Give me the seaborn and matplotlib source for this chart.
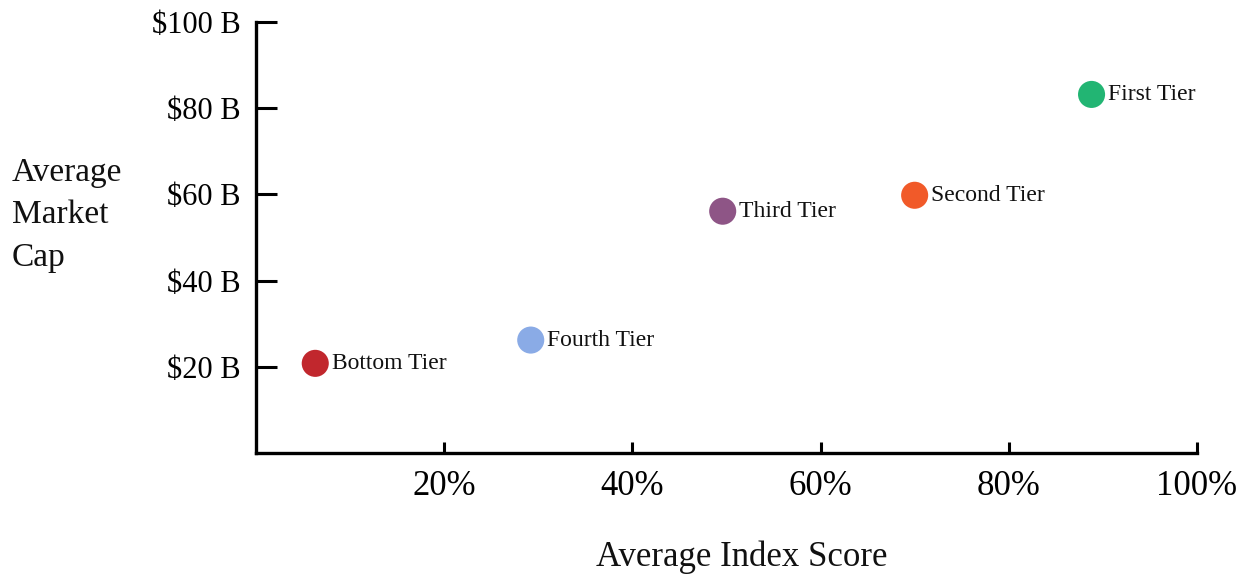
import matplotlib
matplotlib.use('Agg')
import matplotlib.pyplot as plt
import seaborn as sns
import pandas as pd

sns.set_style('white')
plt.rcParams['font.family'] = ['Liberation Serif', 'DejaVu Serif']

tiers = ['Bottom Tier', 'Fourth Tier', 'Third Tier', 'Second Tier', 'First Tier']
index_score = [6.3, 29.2, 49.6, 70.0, 88.8]
market_cap = [20.8, 26.2, 56.1, 59.8, 83.2]
colors = ['#C1272D', '#8AABE6', '#8E5586', '#F15A29', '#22B573']
x_ticks = [20, 40, 60, 80, 100]
y_ticks = [20, 40, 60, 80, 100]

df = pd.DataFrame({'tier': tiers, 'score': index_score, 'cap': market_cap})

fig = plt.figure(figsize=(12.45, 5.75), dpi=100)
ax = fig.add_axes([0.2056, 0.2122, 0.9614 - 0.2056, 0.9617 - 0.2122])

sns.scatterplot(data=df, x='score', y='cap', hue='tier', palette=dict(zip(tiers, colors)),
                s=380, linewidth=0, legend=False, ax=ax, zorder=3)

for t, x, y in zip(tiers, index_score, market_cap):
    ax.annotate(t, (x, y), xytext=(12, 0), textcoords='offset points',
                va='center', ha='left', fontsize=17, color='#111111')

ax.set_xlim(0, 100)
ax.set_ylim(0, 100)
ax.set_xticks(x_ticks)
ax.set_xticklabels([f'{v}%' for v in x_ticks])
ax.set_yticks(y_ticks)
ax.set_yticklabels([f'${v} B' for v in y_ticks])

for side in ['top', 'right']:
    ax.spines[side].set_visible(False)
for side in ['left', 'bottom']:
    ax.spines[side].set_linewidth(2.4)
    ax.spines[side].set_color('black')

ax.tick_params(axis='x', bottom=True, direction='in', length=8, width=2.2, pad=12,
               labelsize=25, colors='black')
ax.tick_params(axis='y', left=True, direction='in', length=15, width=2.2, pad=11,
               labelsize=22, colors='black')

ax.set_xlabel('Average Index Score', fontsize=25, color='#111111')
ax.xaxis.set_label_coords(0.516, -0.203)
ax.set_ylabel('')
fig.text(12 / 1245, 1 - 215 / 575, 'Average\nMarket\nCap', fontsize=24, ha='left', va='center',
         linespacing=1.5, color='#111111')

fig.savefig('out.png', dpi=100)
